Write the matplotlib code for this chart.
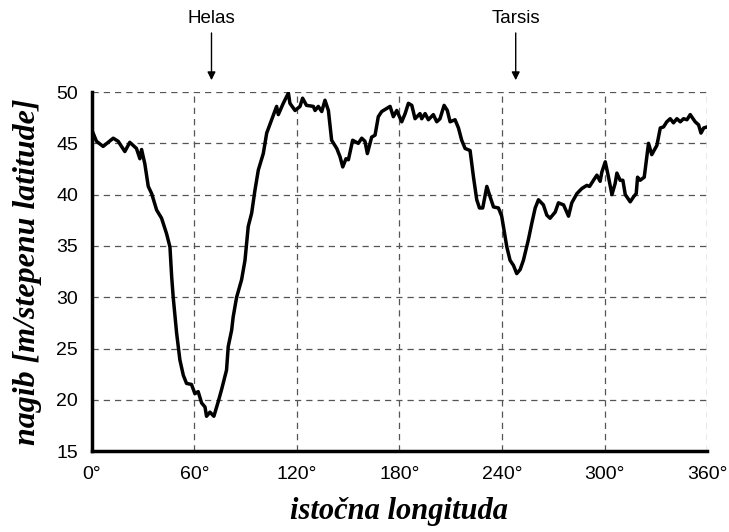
import matplotlib.pyplot as plt

# Martian slope profile vs east longitude
lon = [0, 2.7, 6.6, 12.5, 15.4, 19.3, 22.2, 26.1, 28.1, 29.1, 31, 33, 35, 37.9, 40.8,
       43.7, 45.7, 46.7, 47.6, 49.6, 51.5, 53.5, 55.4, 58.3, 60.3, 62.2, 64.2, 66.2,
       67.1, 69.1, 71.4, 73.9, 75.9, 78.8, 79.8, 81.8, 82.7, 84.7, 87.6, 89.6, 91.5,
       93.5, 95.4, 97.4, 100.3, 102.3, 105.2, 108.1, 109.1, 112, 115, 115.9, 118.9,
       121.8, 123.3, 125.6, 129.6, 130.6, 132.5, 134.5, 136.4, 138.4, 140.3, 143.3,
       145.2, 146.8, 148.7, 150.1, 152.6, 155.9, 157.9, 159.8, 161.2, 163.7, 165.7,
       167.6, 169.6, 174.5, 176.4, 178.4, 181.3, 183.3, 185.2, 187.2, 189.1, 192, 193,
       195, 196.9, 199.8, 201.8, 203.7, 206.1, 208, 209.6, 212.5, 214.5, 216.4, 218.4,
       221.3, 223.3, 225.2, 226.8, 228.7, 231.1, 233, 235, 237.9, 239.8, 240.8, 242.8,
       244.7, 246.7, 248.6, 250.6, 252.5, 255.4, 257.4, 259.4, 261.3, 264.2, 266.2,
       268.1, 271.1, 273, 276, 278.9, 280.8, 283.8, 286.7, 289.6, 291.2, 293.5, 295.5,
       297.4, 298.4, 300.4, 302.3, 304.3, 306.2, 307.2, 309.1, 310.7, 312.1, 315, 317,
       318.5, 319.3, 320.8, 323.2, 325.7, 327.6, 330.6, 332.6, 334.5, 336.4, 338.4,
       340.3, 342.3, 344.3, 346.2, 348.2, 350.1, 353, 355, 356.4, 358, 360]
nagib = [46.3, 45.2, 44.7, 45.5, 45.2, 44.2, 45.1, 44.5, 43.5, 44.4, 43.0, 40.8, 40.1,
         38.5, 37.7, 36.2, 34.9, 32.0, 30.0, 26.5, 23.9, 22.4, 21.6, 21.5, 20.6, 20.8,
         19.7, 19.3, 18.4, 18.8, 18.4, 19.8, 21.0, 22.9, 25.2, 26.8, 28.1, 30.0, 31.7,
         33.6, 36.9, 38.2, 40.4, 42.4, 44.0, 46.0, 47.3, 48.6, 47.8, 48.9, 49.9, 48.9,
         48.2, 48.6, 49.4, 48.7, 48.6, 48.2, 48.6, 48.1, 49.2, 48.2, 45.3, 44.5, 43.7,
         42.7, 43.5, 43.4, 45.3, 45.0, 45.5, 45.2, 44.0, 45.6, 45.8, 47.6, 48.1, 48.6,
         47.6, 48.2, 47.1, 47.9, 48.9, 48.7, 47.4, 47.9, 47.4, 47.9, 47.3, 47.8, 47.1,
         47.4, 48.7, 48.2, 47.1, 47.3, 46.5, 45.3, 44.5, 44.3, 41.7, 39.5, 38.7, 38.7,
         40.8, 39.8, 38.8, 38.7, 37.9, 36.9, 34.9, 33.6, 33.1, 32.3, 32.7, 33.6, 35.6,
         37.2, 38.7, 39.5, 39.0, 38.0, 37.7, 38.3, 39.2, 39.0, 37.9, 39.2, 40.1, 40.6,
         40.9, 40.8, 41.4, 41.9, 41.3, 42.2, 43.2, 41.7, 40.0, 41.1, 42.1, 41.4, 41.4,
         40.0, 39.3, 39.8, 40.1, 41.7, 41.4, 41.7, 45.0, 43.9, 44.8, 46.5, 46.6, 47.1,
         47.4, 47.0, 47.4, 47.1, 47.4, 47.3, 47.8, 47.1, 46.8, 46.0, 46.5, 46.6]

x_ticks = [0, 60, 120, 180, 240, 300, 360]
x_labels = ['0°', '60°', '120°', '180°', '240°', '300°', '360°']
y_ticks = [15, 20, 25, 30, 35, 40, 45, 50]

regions = ['Helas', 'Tarsis']
region_lon = [70, 248]

fig = plt.figure(figsize=(7.29, 5.32), dpi=100)
ax = fig.add_axes([0.126, 0.152, 0.844, 0.675])

ax.plot(lon, nagib, color='black', linewidth=2.5, solid_joinstyle='round', zorder=3)

ax.set_xlim(0, 360)
ax.set_ylim(15, 50)
ax.set_xticks(x_ticks)
ax.set_xticklabels(x_labels)
ax.set_yticks(y_ticks)

ax.grid(True, color='#555555', linestyle=(0, (5, 4)), linewidth=0.9)
ax.set_axisbelow(True)

for side in ['top', 'right']:
    ax.spines[side].set_visible(False)
for side in ['left', 'bottom']:
    ax.spines[side].set_linewidth(2.5)
    ax.spines[side].set_zorder(4)

ax.tick_params(axis='x', length=0, pad=11, labelsize=14)
ax.tick_params(axis='y', length=0, pad=10, labelsize=14)
for lab in ax.get_xticklabels() + ax.get_yticklabels():
    lab.set_fontfamily('Liberation Sans')

ax.set_xlabel('istočna longituda', family='Liberation Serif', style='italic',
              weight='bold', fontsize=22, labelpad=10)
ax.set_ylabel('nagib [m/stepenu latitude]', family='Liberation Serif', style='italic',
              weight='bold', fontsize=23, labelpad=10)

for name, x in zip(regions, region_lon):
    ax.annotate(name, xy=(x, 1.033), xycoords=('data', 'axes fraction'),
                xytext=(x, 1.18), textcoords=('data', 'axes fraction'),
                ha='center', va='bottom', fontsize=13.5, family='Liberation Sans',
                arrowprops=dict(arrowstyle='-|>', color='black', lw=1,
                                mutation_scale=12, shrinkA=2, shrinkB=0))

fig.savefig('out.png', dpi=100)
